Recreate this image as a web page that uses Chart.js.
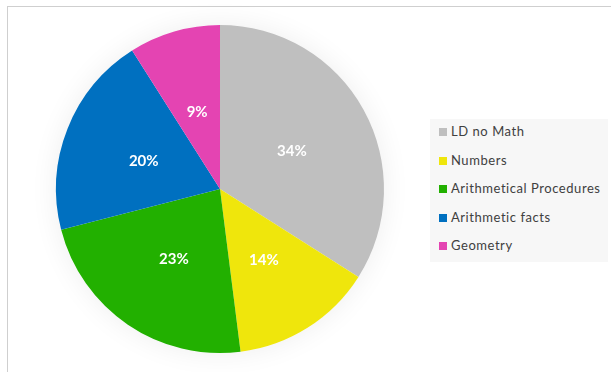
<!DOCTYPE html>
<html>
<head>
<meta charset="utf-8">
<script src="https://cdn.jsdelivr.net/npm/chart.js@4.4.1/dist/chart.umd.min.js"></script>
<style>
  html, body { margin: 0; padding: 0; background: #fff; }
  #wrap { position: relative; width: 611px; height: 372px; overflow: hidden; }
  #frame { position: absolute; left: 7px; top: 6px; right: -2px; bottom: -2px; border: 1px solid #cfcfcf; }
  #myChart { position: absolute; left: 0; top: 0; }
  #legend {
    position: absolute; left: 430px; top: 119px; width: 178px; height: 143px;
    background: #f7f7f7; font-family: Lato, "Open Sans", sans-serif; font-size: 13px;
    letter-spacing: 0.55px; color: #404040;
  }
  #legend .item { position: absolute; left: 9px; height: 16px; line-height: 16px; white-space: nowrap; }
  #legend .box { display: inline-block; width: 8px; height: 8px; margin-right: 4px; vertical-align: 0px; }
</style>
</head>
<body>
<div id="wrap">
  <div id="frame"></div>
  <canvas id="myChart" width="440" height="372"></canvas>
  <div id="legend"></div>
</div>
<script>
const categorias = ['LD no Math', 'Numbers', 'Arithmetical Procedures', 'Arithmetic facts', 'Geometry'];
const valores = [34, 14, 23, 20, 9];
const cores = ['#bfbfbf', '#efe60c', '#22b000', '#0070c0', '#e444b2'];

const ctx = document.getElementById('myChart');

// halo suave atras da pizza
const sombra = {
  id: 'sombra',
  beforeDatasetsDraw(chart) {
    const arc = chart.getDatasetMeta(0).data[0];
    const c = chart.ctx;
    c.save();
    c.shadowColor = 'rgba(0, 0, 0, 0.07)';
    c.shadowBlur = 28;
    c.fillStyle = '#fff';
    c.beginPath();
    c.arc(arc.x, arc.y, arc.outerRadius, 0, Math.PI * 2);
    c.fill();
    c.restore();
  }
};

// rotulos de porcentagem dentro de cada fatia
const rotulos = {
  id: 'rotulos',
  afterDatasetsDraw(chart) {
    const c = chart.ctx;
    const total = valores.reduce((a, b) => a + b, 0);
    c.save();
    c.fillStyle = '#fff';
    c.font = 'bold 15px Lato, "Open Sans", sans-serif';
    c.textAlign = 'center';
    c.textBaseline = 'middle';
    chart.getDatasetMeta(0).data.forEach((arc, i) => {
      const meio = (arc.startAngle + arc.endAngle) / 2;
      const r = arc.outerRadius * 0.5;
      const x = arc.x + Math.cos(meio) * r;
      const y = arc.y + Math.sin(meio) * r + 2;
      c.fillText(Math.round(valores[i] / total * 100) + '%', x, y);
    });
    c.restore();
  }
};

new Chart(ctx, {
  type: 'pie',
  data: {
    labels: categorias,
    datasets: [{
      data: valores,
      backgroundColor: cores,
      borderWidth: 0
    }]
  },
  options: {
    responsive: false,
    animation: false,
    layout: { padding: { left: 56, right: 56, top: 25, bottom: 19 } },
    plugins: {
      legend: { display: false },
      tooltip: { enabled: false }
    }
  },
  plugins: [sombra, rotulos]
});

const legenda = document.getElementById('legend');
categorias.forEach((nome, i) => {
  const item = document.createElement('div');
  item.className = 'item';
  item.style.top = (4 + i * 28.5) + 'px';
  item.innerHTML = '<span class="box" style="background:' + cores[i] + '"></span>' + nome;
  legenda.appendChild(item);
});
</script>
</body>
</html>
